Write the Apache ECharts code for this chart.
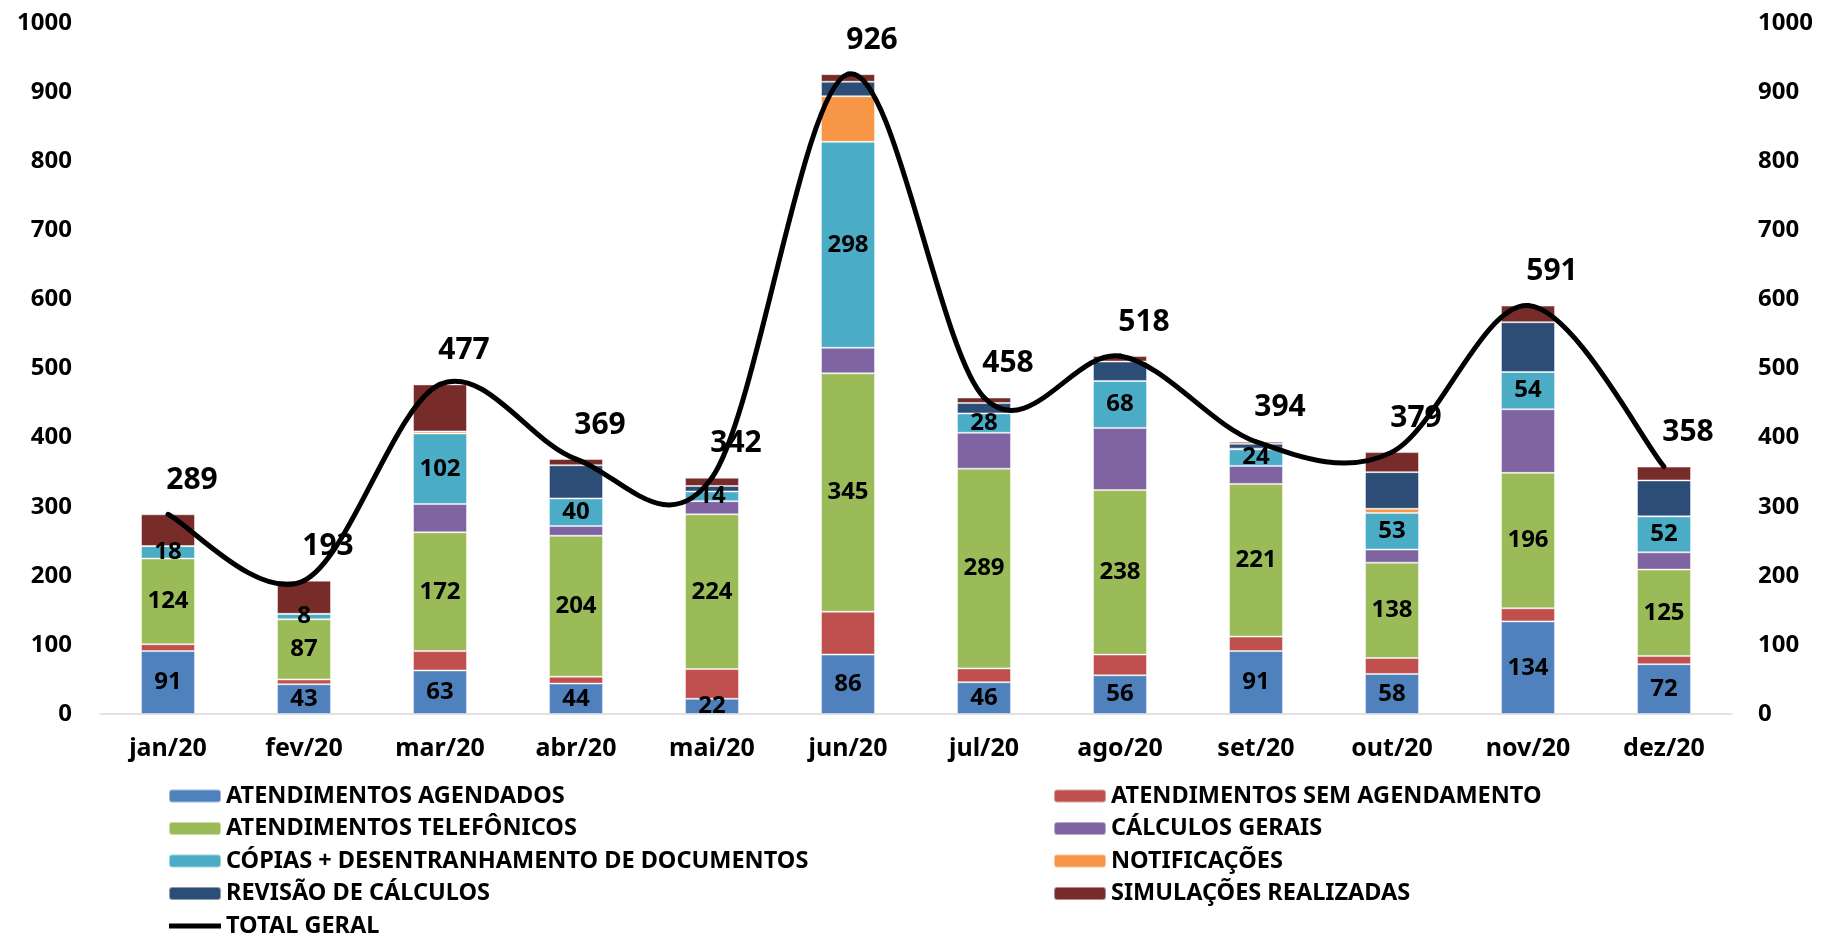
<!DOCTYPE html>
<html>
<head>
<meta charset="utf-8">
<title>Atendimentos 2020</title>
<script src="https://cdn.jsdelivr.net/npm/echarts@6/dist/echarts.min.js"></script>
<style>
	html, body {
		margin: 0;
		padding: 0;
		background: #ffffff;
	}
	#myChart {
		width: 1824px;
		height: 937px;
	}
</style>
</head>
<body>
<div id="myChart"></div>
<script>
	var months = ['jan/20', 'fev/20', 'mar/20', 'abr/20', 'mai/20', 'jun/20', 'jul/20', 'ago/20', 'set/20', 'out/20', 'nov/20', 'dez/20'];

	var agendados = [91, 43, 63, 44, 22, 86, 46, 56, 91, 58, 134, 72];
	var semAgendamento = [10, 7, 28, 10, 43, 62, 20, 30, 21, 23, 19, 12];
	var telefonicos = [124, 87, 172, 204, 224, 345, 289, 238, 221, 138, 196, 125];
	var calculosGerais = [0, 0, 41, 14, 19, 37, 52, 90, 26, 19, 92, 25];
	var copias = [18, 8, 102, 40, 14, 298, 28, 68, 24, 53, 54, 52];
	var notificacoes = [0, 0, 3, 0, 0, 66, 0, 0, 1, 6, 0, 0];
	var revisao = [0, 0, 0, 48, 8, 21, 15, 28, 7, 53, 72, 52];
	var simulacoes = [46, 48, 68, 9, 12, 11, 8, 8, 3, 29, 24, 20];
	var totalGeral = [289, 193, 477, 369, 342, 926, 458, 518, 394, 379, 591, 358];

	var yTicks = { min: 0, max: 1000, interval: 100 };

	var fontName = '"Noto Sans", sans-serif';

	// rótulos dentro das barras (só algumas séries mostram)
	function segLabel(show) {
		return {
			show: show,
			position: 'inside',
			color: '#000000',
			fontFamily: fontName,
			fontWeight: 'bold',
			fontSize: 24,
			formatter: function(p) {
				return p.value > 0 ? p.value : '';
			}
		};
	}

	function barSeries(name, data, color, showLabel) {
		return {
			name: name,
			type: 'bar',
			stack: 'total',
			barWidth: 54,
			data: data,
			itemStyle: {
				color: color,
				borderColor: 'rgba(255,255,255,0.45)',
				borderWidth: 1
			},
			label: segLabel(showLabel)
		};
	}

	// curva suavizada igual ao Excel (Catmull-Rom), passando pelos pontos do total
	function renderTotal(params, api) {
		if (params.dataIndexInside !== 0) {
			return;
		}
		var n = params.dataInsideLength;
		var pts = [];
		for (var k = 0; k < n; k++) {
			pts.push(api.coord([api.value(0, k), api.value(1, k)]));
		}
		var segs = [];
		for (var i = 0; i < n - 1; i++) {
			var p0 = pts[Math.max(i - 1, 0)];
			var p1 = pts[i];
			var p2 = pts[i + 1];
			var p3 = pts[Math.min(i + 2, n - 1)];
			segs.push({
				type: 'bezierCurve',
				shape: {
					x1: p1[0],
					y1: p1[1],
					cpx1: p1[0] + (p2[0] - p0[0]) / 6,
					cpy1: p1[1] + (p2[1] - p0[1]) / 6,
					cpx2: p2[0] - (p3[0] - p1[0]) / 6,
					cpy2: p2[1] - (p3[1] - p1[1]) / 6,
					x2: p2[0],
					y2: p2[1]
				},
				style: {
					fill: null,
					stroke: '#000000',
					lineWidth: 5,
					lineCap: 'round'
				}
			});
		}
		return {
			type: 'group',
			children: segs
		};
	}

	var totalPoints = totalGeral.map(function(v, i) {
		return [i, v];
	});

	var myChart = echarts.init(document.getElementById('myChart'));

	var legendText = {
		color: '#000000',
		fontFamily: fontName,
		fontWeight: 'bold',
		fontSize: 23.5,
		lineHeight: 24
	};

	myChart.setOption({
		animation: false,
		grid: {
			left: 100,
			right: 92,
			top: 23,
			bottom: 223
		},
		legend: [{
				orient: 'vertical',
				left: 168,
				top: 784,
				height: 170,
				padding: 0,
				itemWidth: 52,
				itemHeight: 13,
				itemGap: 8.5,
				textStyle: legendText,
				data: ['ATENDIMENTOS AGENDADOS', 'ATENDIMENTOS TELEFÔNICOS', 'CÓPIAS + DESENTRANHAMENTO DE DOCUMENTOS', 'REVISÃO DE CÁLCULOS', {
					name: 'TOTAL GERAL',
					icon: 'path://M0 0H52V5H0Z',
					itemStyle: {
						color: '#000000',
						opacity: 1
					}
				}]
			},
			{
				orient: 'vertical',
				left: 1053,
				top: 784,
				height: 170,
				padding: 0,
				itemWidth: 52,
				itemHeight: 13,
				itemGap: 8.5,
				textStyle: legendText,
				data: ['ATENDIMENTOS SEM AGENDAMENTO', 'CÁLCULOS GERAIS', 'NOTIFICAÇÕES', 'SIMULAÇÕES REALIZADAS']
			}
		],
		xAxis: {
			type: 'category',
			data: months,
			axisLine: {
				lineStyle: {
					color: '#d9d9d9',
					width: 1.5
				}
			},
			axisTick: {
				show: false
			},
			axisLabel: {
				margin: 22,
				color: '#000000',
				fontFamily: fontName,
				fontWeight: 'bold',
				fontSize: 25
			}
		},
		yAxis: [{
				type: 'value',
				min: yTicks.min,
				max: yTicks.max,
				interval: yTicks.interval,
				splitLine: {
					show: false
				},
				axisLabel: {
					margin: 28,
					color: '#000000',
					fontFamily: fontName,
					fontWeight: 'bold',
					fontSize: 24,
					formatter: function(v) {
						return String(v);
					}
				}
			},
			{
				type: 'value',
				position: 'right',
				min: yTicks.min,
				max: yTicks.max,
				interval: yTicks.interval,
				splitLine: {
					show: false
				},
				axisLabel: {
					margin: 26,
					color: '#000000',
					fontFamily: fontName,
					fontWeight: 'bold',
					fontSize: 24,
					formatter: function(v) {
						return String(v);
					}
				}
			}
		],
		series: [
			barSeries('ATENDIMENTOS AGENDADOS', agendados, '#4F81BD', true),
			barSeries('ATENDIMENTOS SEM AGENDAMENTO', semAgendamento, '#C0504D', false),
			barSeries('ATENDIMENTOS TELEFÔNICOS', telefonicos, '#9BBB59', true),
			barSeries('CÁLCULOS GERAIS', calculosGerais, '#8064A2', false),
			barSeries('CÓPIAS + DESENTRANHAMENTO DE DOCUMENTOS', copias, '#4BACC6', true),
			barSeries('NOTIFICAÇÕES', notificacoes, '#F79646', false),
			barSeries('REVISÃO DE CÁLCULOS', revisao, '#2C4D75', false),
			barSeries('SIMULAÇÕES REALIZADAS', simulacoes, '#772C2A', false),
			{
				// traço da linha total
				name: 'TOTAL GERAL',
				type: 'custom',
				data: totalPoints,
				renderItem: renderTotal,
				silent: true,
				z: 5
			},
			{
				// só os rótulos do total
				name: 'TOTAL GERAL',
				type: 'line',
				data: totalGeral,
				symbol: 'circle',
				symbolSize: 2,
				showSymbol: true,
				lineStyle: {
					opacity: 0
				},
				itemStyle: {
					color: 'rgba(0,0,0,0)'
				},
				label: {
					show: true,
					position: 'top',
					distance: 18,
					offset: [24, 0],
					color: '#000000',
					fontFamily: fontName,
					fontWeight: 'bold',
					fontSize: 30
				},
				z: 6
			}
		]
	});

	window.onresize = function() {
		myChart.resize();
	}
</script>
</body>
</html>
